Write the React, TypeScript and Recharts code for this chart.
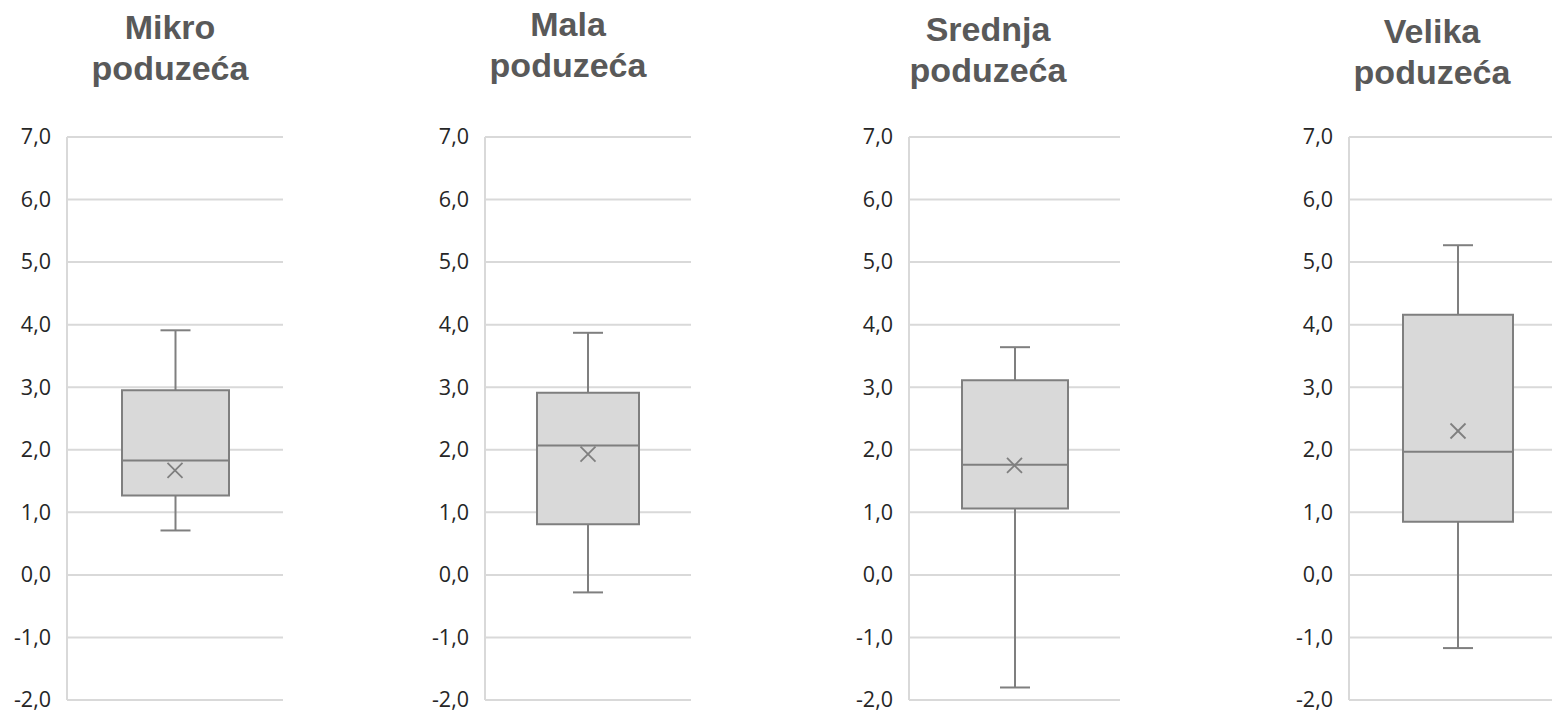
import React from 'react';
import { ComposedChart, Bar, Scatter, XAxis, YAxis, CartesianGrid } from 'recharts';

// box plot statistics
const groups = ['Mikro poduzeća', 'Mala poduzeća', 'Srednja poduzeća', 'Velika poduzeća'];
const minValues = [0.71, -0.28, -1.8, -1.17];
const q1Values = [1.27, 0.81, 1.06, 0.85];
const medianValues = [1.83, 2.07, 1.76, 1.97];
const q3Values = [2.95, 2.91, 3.11, 4.16];
const maxValues = [3.91, 3.87, 3.64, 5.27];
const meanValues = [1.67, 1.93, 1.75, 2.3];
const yTicks = [-2, -1, 0, 1, 2, 3, 4, 5, 6, 7];

// where each small chart sits on the page
const panels = [
    { left: 0, axisWidth: 67, plotWidth: 216, barSize: 107, titleX: 170, titleTop: 7 },
    { left: 420, axisWidth: 65, plotWidth: 206, barSize: 102, titleX: 568, titleTop: 4 },
    { left: 845, axisWidth: 64, plotWidth: 211, barSize: 106, titleX: 988, titleTop: 9 },
    { left: 1285, axisWidth: 64, plotWidth: 218, barSize: 110, titleX: 1432, titleTop: 11 },
];

const GRID = '#d9d9d9';
const LINE = '#7f7f7f';
const CAP = 30;

const formatTick = (v: number) => v.toFixed(1).replace('.', ',');

const Whisker = (props: any) => {
    const { x, y, width, height } = props;
    const cx = x + width / 2;
    return (
        <g stroke={LINE} strokeWidth={2}>
            <line x1={cx} x2={cx} y1={y} y2={y + height} />
            <line x1={cx - CAP / 2} x2={cx + CAP / 2} y1={y} y2={y} />
            <line x1={cx - CAP / 2} x2={cx + CAP / 2} y1={y + height} y2={y + height} />
        </g>
    );
};

const MeanCross = (props: any) => {
    const { cx, cy } = props;
    const r = 7.5;
    return (
        <g stroke={LINE} strokeWidth={1.8}>
            <line x1={cx - r} y1={cy - r} x2={cx + r} y2={cy + r} />
            <line x1={cx - r} y1={cy + r} x2={cx + r} y2={cy - r} />
        </g>
    );
};

// y axis label, drawn as plain svg text
const TickLabel = (props: any) => {
    const { x, y, payload } = props;
    return (
        <text
            x={x}
            y={y}
            dy="0.34em"
            textAnchor="end"
            fill="#262626"
            fontSize={21.5}
            fontFamily="'Open Sans', sans-serif"
        >
            {formatTick(payload.value)}
        </text>
    );
};

const BoxPanel = ({ index }: { index: number }) => {
    const p = panels[index];
    const data = [{
        name: groups[index],
        whisker: [minValues[index], maxValues[index]],
        box: [q1Values[index], q3Values[index]],
        median: medianValues[index],
        mean: meanValues[index],
    }];
    const half = p.barSize / 2;
    const MedianLine = (props: any) => (
        <line x1={props.cx - half} x2={props.cx + half} y1={props.cy} y2={props.cy} stroke={LINE} strokeWidth={2} />
    );
    const [line1, line2] = groups[index].split(' ');

    return (
        <>
            <div
                style={{
                    position: 'absolute',
                    left: p.titleX - 120,
                    top: p.titleTop,
                    width: 240,
                    textAlign: 'center',
                    fontFamily: '"Liberation Sans", Arial, sans-serif',
                    fontWeight: 'bold',
                    fontSize: 34,
                    lineHeight: '41px',
                    color: '#595959',
                }}
            >
                {line1}
                <br />
                {line2}
            </div>
            <div style={{ position: 'absolute', left: p.left, top: 0 }}>
                <ComposedChart
                    width={p.axisWidth + p.plotWidth}
                    height={712}
                    data={data}
                    margin={{ top: 137, right: 0, bottom: 12, left: 0 }}
                    barGap={-p.barSize}
                >
                    <CartesianGrid vertical={false} stroke={GRID} strokeWidth={2} />
                    <XAxis dataKey="name" hide />
                    <YAxis
                        type="number"
                        domain={[-2, 7]}
                        ticks={yTicks}
                        interval={0}
                        width={p.axisWidth}
                        tickLine={false}
                        tickMargin={10}
                        axisLine={{ stroke: GRID, strokeWidth: 2 }}
                        tick={<TickLabel />}
                    />
                    <Bar dataKey="whisker" barSize={p.barSize} shape={<Whisker />} isAnimationActive={false} />
                    <Bar dataKey="box" barSize={p.barSize} fill={GRID} stroke={LINE} strokeWidth={2} isAnimationActive={false} />
                    <Scatter dataKey="median" shape={<MedianLine />} isAnimationActive={false} />
                    <Scatter dataKey="mean" shape={<MeanCross />} isAnimationActive={false} />
                </ComposedChart>
            </div>
        </>
    );
};

export default function App() {
    return (
        <div
            style={{
                position: 'absolute',
                left: 0,
                top: 0,
                width: 1552,
                height: 712,
                overflow: 'hidden',
                background: '#ffffff',
            }}
        >
            {groups.map((g, i) => (
                <BoxPanel key={g} index={i} />
            ))}
        </div>
    );
}
